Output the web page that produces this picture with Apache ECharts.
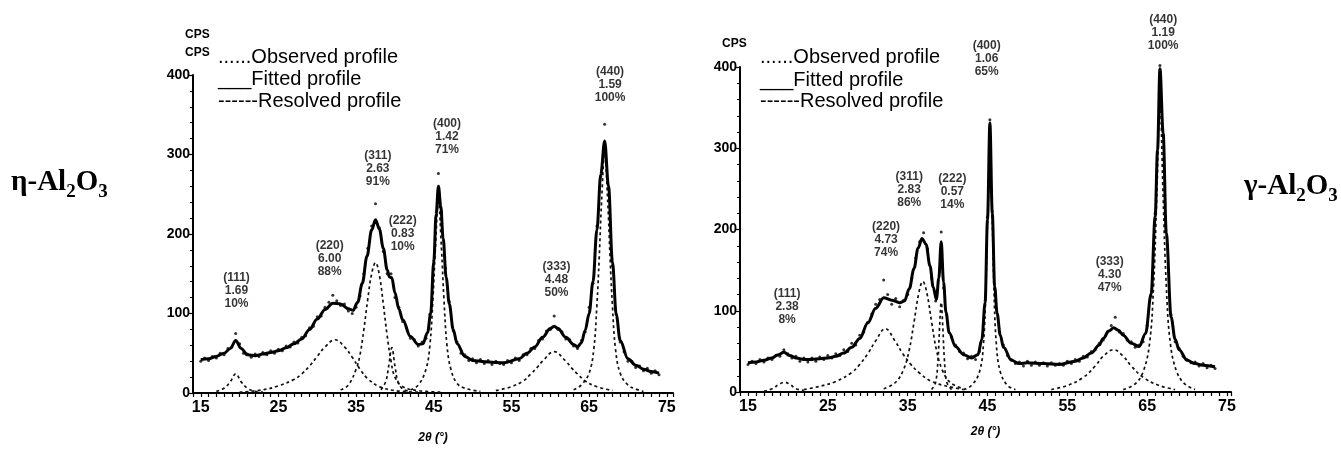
<!DOCTYPE html>
<html>
<head>
<meta charset="utf-8">
<title>η-Al2O3 / γ-Al2O3 profiles</title>
<script src="https://cdn.jsdelivr.net/npm/echarts@6/dist/echarts.min.js"></script>
<style>
  html, body { margin: 0; padding: 0; background: #fff; }
  #chart { width: 1341px; height: 449px; }
</style>
</head>
<body>
<div id="chart"></div>
<script>
// axis labels
const xTickLabels = [15, 25, 35, 45, 55, 65, 75]
const yTickLabels = [0, 100, 200, 300, 400]

// ---- eta-Al2O3 (left) ----
const etaObserved = [[15,40],[15.5,44],[16,41],[16.5,46],[17,44],[17.5,50],[18,48],[18.5,56],[19,58],[19.5,75],[20,62],[20.5,50],[21,49],[21.5,45],[22,49],[22.5,46],[23,51],[23.5,48],[24,53],[24.5,50],[25,55],[25.5,53],[26,59],[26.5,58],[27,64],[27.5,63],[28,70],[28.5,72],[29,82],[29.5,84],[30,96],[30.5,97],[31,108],[31.5,114],[32,123],[32.5,116],[33,110],[33.5,112],[34,103],[34.5,100],[35,108],[35.5,122],[36,150],[36.5,182],[37,210],[37.5,238],[38,208],[38.5,178],[39,150],[39.5,150],[40,120],[40.5,108],[41,90],[41.5,82],[42,69],[42.5,67],[43,59],[43.5,64],[44,69],[44.5,99],[45,166],[45.6,276],[46,228],[46.5,157],[47,115],[47.5,78],[48,64],[48.5,50],[49,48],[49.5,41],[50,43],[50.5,38],[51,42],[51.5,37],[52,41],[52.5,36],[53,40],[53.5,37],[54,36],[54.5,41],[55,38],[55.5,44],[56,41],[56.5,48],[57,48],[57.5,56],[58,56],[58.5,66],[59,68],[59.5,78],[60,80],[60.5,97],[61,80],[61.5,77],[62,68],[62.5,67],[63,59],[63.5,56],[64,66],[64.5,77],[65,108],[65.5,138],[66,210],[66.5,272],[67,338],[67.5,258],[68,160],[68.5,99],[69,64],[69.5,52],[70,40],[70.5,40],[71,32],[71.5,34],[72,28],[72.5,31],[73,25],[73.5,28],[74,23]]
const etaFitted = [[15,42],[16,43],[17,46],[18,50],[18.8,56],[19.5,66],[20.2,56],[21,48],[22,47],[23,49],[24,51],[25,53],[26,57],[27,62],[28,68],[29,80],[30,93],[31,105],[32,113],[33,112],[34,106],[34.6,104],[35.2,114],[35.8,138],[36.4,172],[37,205],[37.5,218],[38,206],[38.5,182],[39,155],[39.3,146],[39.6,145],[40,126],[40.5,106],[41,92],[42,71],[43,61],[43.6,62],[44.2,76],[44.6,100],[45,165],[45.3,225],[45.6,260],[45.9,235],[46.2,195],[46.6,145],[47,112],[47.5,80],[48,62],[49,46],[50,41],[52,39],[54,38],[56,43],[57,50],[58,58],[59,70],[60,81],[60.5,84],[61,81],[62,70],[63,61],[63.5,58],[64,63],[64.5,79],[65,100],[65.5,140],[66,205],[66.5,275],[67,317],[67.5,260],[68,165],[68.5,98],[69,66],[70,43],[71,35],[72,30],[73,27],[74,25]]
const eta111 = [[17,2],[18,6],[18.8,14],[19.5,24],[20.2,14],[21,6],[22,2],[23,1]]
const eta220 = [[20,1],[23,4],[25,9],[27,17],[28,24],[29,34],[30,46],[31,58],[32.3,67],[33.5,58],[34.5,45],[35.5,30],[36.5,18],[38,8],[40,3],[43,1]]
const eta311 = [[33,4],[34,10],[35,30],[35.5,48],[36,80],[36.5,118],[37,150],[37.5,164],[38,148],[38.5,112],[39,72],[39.5,40],[40,20],[41,8],[43,3],[46,1]]
const eta222 = [[38.2,4],[38.8,14],[39.2,34],[39.6,57],[40,34],[40.4,14],[41,5],[42,2]]
const eta400 = [[42,4],[43,10],[44,30],[44.5,60],[44.9,120],[45.2,180],[45.6,240],[46,180],[46.3,120],[46.7,60],[47.2,30],[48,12],[49,6],[51,2]]
const eta333 = [[53,3],[55,8],[56.5,15],[57.5,24],[58.3,32],[59,40],[60.5,52],[62,40],[62.7,32],[63.5,24],[64.5,15],[66,8],[68,3]]
const eta440 = [[63,4],[64,10],[65,25],[65.6,55],[66,110],[66.3,170],[66.6,240],[67,300],[67.4,240],[67.7,170],[68,110],[68.4,55],[69,25],[70,10],[71,5],[72,2]]
const etaHkl = ['(111)', '(220)', '(311)', '(222)', '(400)', '(333)', '(440)']
const etaFwhm = ['1.69', '6.00', '2.63', '0.83', '1.42', '4.48', '1.59']
const etaPct = ['10%', '88%', '91%', '10%', '71%', '50%', '100%']
const etaLabelAt = [[19.6,129],[31.6,169],[37.8,282],[41.0,201],[46.7,323],[60.8,143],[67.7,388]]

// ---- gamma-Al2O3 (right) ----
const gamObserved = [[15,34],[15.5,38],[16,35],[16.5,40],[17,37],[17.5,42],[18,40],[18.5,45],[19,44],[19.5,52],[20,47],[20.5,42],[21,44],[21.5,38],[22,42],[22.5,37],[23,42],[23.5,38],[24,43],[24.5,40],[25,45],[25.5,42],[26,47],[26.5,45],[27,52],[27.5,50],[28,60],[28.5,58],[29,70],[29.5,74],[30,86],[30.5,96],[31,108],[31.5,114],[32,138],[32.5,120],[33,108],[33.5,115],[34,105],[34.5,113],[35,120],[35.5,140],[36,165],[36.5,185],[37,196],[37.5,176],[38,140],[38.5,112],[39,150],[39.2,197],[39.5,128],[40,86],[40.5,68],[41,58],[41.5,50],[42,48],[42.5,41],[43,44],[43.5,40],[44,50],[44.5,88],[45,215],[45.3,335],[45.6,222],[46,118],[46.5,74],[47,58],[47.5,45],[48,40],[48.5,35],[49,37],[49.5,32],[50,38],[50.5,33],[51,37],[51.5,33],[52,36],[52.5,32],[53,36],[53.5,33],[54,35],[54.5,33],[55,38],[55.5,35],[56,40],[56.5,38],[57,44],[57.5,43],[58,50],[58.5,52],[59,60],[59.5,64],[60,74],[60.5,82],[61,92],[61.5,74],[62,72],[62.5,64],[63,62],[63.5,55],[64,58],[64.5,62],[65,82],[65.5,118],[66,220],[66.6,402],[67,316],[67.5,180],[68,95],[68.5,62],[69,54],[69.5,44],[70,40],[70.5,36],[71,37],[71.5,32],[72,35],[72.5,30],[73,33],[73.5,29]]
const gamFitted = [[15,36],[16,37],[17,39],[18,42],[18.8,46],[19.5,49],[20.2,45],[21,42],[22,40],[23,40],[24,41],[25,42],[26,44],[27,48],[28,55],[29,66],[30,85],[31,103],[32,116],[33,113],[34,110],[34.6,112],[35.2,127],[35.8,152],[36.3,177],[36.8,189],[37.3,182],[37.8,155],[38.2,129],[38.6,114],[38.9,140],[39.2,185],[39.5,135],[39.8,98],[40.2,73],[41,56],[42,46],[43,42],[43.8,46],[44.3,65],[44.7,110],[45,212],[45.3,331],[45.6,220],[45.9,130],[46.2,97],[46.6,70],[47,55],[48,39],[49,35],[50,36],[52,35],[54,34],[56,38],[57,42],[58,48],[59,58],[59.5,66],[60.2,75],[60.8,79],[61.4,76],[62,70],[63,60],[64,56],[64.8,72],[65.5,121],[66,216],[66.3,298],[66.6,398],[67,319],[67.4,195],[68,92],[68.5,65],[69,52],[70,39],[71,35],[72,33],[73.5,31]]
const gam111 = [[17,1],[18,4],[19,10],[19.6,12],[20.3,9],[21,4],[22,2]]
const gam220 = [[22,3],[24,7],[26,13],[28,24],[29,34],[30,47],[31,63],[32.2,78],[33.4,63],[34.4,47],[35.4,34],[36.4,24],[38,13],[40,7],[42,3]]
const gam311 = [[32,4],[33.5,12],[34.5,28],[35.2,52],[35.8,86],[36.4,122],[36.9,136],[37.4,122],[38,86],[38.6,52],[39.3,28],[40.3,12],[42,4]]
const gam222 = [[38,3],[38.5,12],[38.8,40],[39,80],[39.2,110],[39.4,80],[39.6,40],[39.9,12],[40.5,3]]
const gam400 = [[42,3],[43,8],[44,25],[44.5,60],[44.8,130],[45,210],[45.3,290],[45.6,210],[45.8,130],[46.1,60],[46.6,25],[47.5,8],[48.5,3]]
const gam333 = [[53,3],[55,8],[57,18],[58.5,32],[59.5,44],[60.8,52],[62,44],[63,32],[64.5,18],[66.5,8],[68.5,3]]
const gam440 = [[62,3],[63.5,10],[64.5,25],[65.3,60],[65.8,130],[66.2,240],[66.6,360],[67,240],[67.4,130],[67.9,60],[68.7,25],[69.7,10],[71,3]]
const gamHkl = ['(111)', '(220)', '(311)', '(222)', '(400)', '(333)', '(440)']
const gamFwhm = ['2.38', '4.73', '2.83', '0.57', '1.06', '4.30', '1.19']
const gamPct = ['8%', '74%', '86%', '14%', '65%', '47%', '100%']
const gamLabelAt = [[19.9,105],[32.3,187],[35.2,249],[40.6,246],[44.9,410],[60.3,145],[67.0,442]]

const chart = echarts.init(document.getElementById('chart'))

const sans = '"Liberation Sans", Arial, sans-serif'
const narrow = '"Liberation Sans Narrow", "Liberation Sans", Arial, sans-serif'
const serif = '"Liberation Serif", "Times New Roman", serif'

const xLabel = (v) => {
  const r = Math.round(v)
  return Math.abs(v - r) < 1e-6 && xTickLabels.includes(r) ? String(r) : ''
}

const makeX = (gridIndex, min, max, nameGap) => ({
  type: 'value',
  gridIndex,
  min,
  max,
  interval: 1,
  name: '2θ (°)',
  nameLocation: 'middle',
  nameGap,
  nameTextStyle: { fontFamily: sans, fontSize: 12, fontWeight: 'bold', fontStyle: 'italic', color: '#000' },
  axisLine: { show: true, onZero: false, lineStyle: { color: '#000', width: 2 } },
  axisTick: { show: true, length: 4, lineStyle: { color: '#000', width: 1.2 } },
  axisLabel: { formatter: xLabel, margin: 7, color: '#000', fontFamily: narrow, fontWeight: 'bold', fontSize: 16 },
  splitLine: { show: false }
})

const makeY = (gridIndex) => ({
  type: 'value',
  gridIndex,
  min: yTickLabels[0],
  max: yTickLabels[yTickLabels.length - 1],
  interval: 100,
  axisLine: { show: true, lineStyle: { color: '#000', width: 2 } },
  axisTick: { show: true, length: 5, lineStyle: { color: '#000', width: 1.2 } },
  minorTick: { show: true, splitNumber: 5, length: 3, lineStyle: { color: '#000', width: 1 } },
  axisLabel: { margin: 3, color: '#000', fontFamily: narrow, fontWeight: 'bold', fontSize: 14 },
  splitLine: { show: false }
})

const observed = (data, i) => ({
  type: 'scatter', xAxisIndex: i, yAxisIndex: i, data,
  symbolSize: 3, clip: false, silent: true,
  itemStyle: { color: '#000' }
})

const fitted = (data, i) => ({
  type: 'line', xAxisIndex: i, yAxisIndex: i, data,
  showSymbol: false, smooth: 0.35, smoothMonotone: 'x', silent: true,
  lineStyle: { color: '#000', width: 3 }
})

const resolved = (data, i) => ({
  type: 'line', xAxisIndex: i, yAxisIndex: i, data,
  showSymbol: false, smooth: 0.4, silent: true,
  lineStyle: { color: '#111', width: 1.7, type: [3, 3] }
})

const peakLabels = (hkl, fwhm, pct, at, i) => ({
  type: 'scatter', xAxisIndex: i, yAxisIndex: i,
  symbolSize: 1, clip: false, silent: true,
  itemStyle: { color: 'rgba(0,0,0,0)' },
  data: hkl.map((h, k) => ({ value: at[k], name: h + '\n' + fwhm[k] + '\n' + pct[k] })),
  label: {
    show: true, position: 'inside', formatter: (p) => p.name,
    color: '#000', fontFamily: narrow, fontWeight: 'bold', fontSize: 12, lineHeight: 13
  }
})

const legendText = (left, top, text) => ({
  type: 'text', left, top,
  style: { text, fill: '#000', font: '20px ' + sans }
})

const formula = (left, top, greek) => ({
  type: 'text', left, top,
  style: {
    text: '{b|' + greek + '-Al}{s|2}{b|O}{s|3}',
    rich: {
      b: { fontFamily: serif, fontSize: 29, fontWeight: 'bold', fill: '#000', verticalAlign: 'top', padding: [0, 0, 5, 0] },
      s: { fontFamily: serif, fontSize: 19, fontWeight: 'bold', fill: '#000', verticalAlign: 'bottom' }
    }
  }
})

chart.setOption({
  animation: false,
  backgroundColor: '#fff',
  grid: [
    { left: 193, top: 75, width: 480, height: 322 },
    { left: 740, top: 67, width: 491, height: 325 }
  ],
  xAxis: [makeX(0, 14, 75.8, 39), makeX(1, 14, 75.5, 34)],
  yAxis: [makeY(0), makeY(1)],
  series: [
    resolved(eta111, 0), resolved(eta220, 0), resolved(eta311, 0), resolved(eta222, 0),
    resolved(eta400, 0), resolved(eta333, 0), resolved(eta440, 0),
    fitted(etaFitted, 0),
    observed(etaObserved, 0),
    peakLabels(etaHkl, etaFwhm, etaPct, etaLabelAt, 0),
    resolved(gam111, 1), resolved(gam220, 1), resolved(gam311, 1), resolved(gam222, 1),
    resolved(gam400, 1), resolved(gam333, 1), resolved(gam440, 1),
    fitted(gamFitted, 1),
    observed(gamObserved, 1),
    peakLabels(gamHkl, gamFwhm, gamPct, gamLabelAt, 1)
  ],
  graphic: [
    { type: 'text', left: 185, top: 29, style: { text: 'CPS', fill: '#000', font: 'bold 12px ' + sans } },
    { type: 'text', left: 185, top: 47, style: { text: 'CPS', fill: '#000', font: 'bold 12px ' + sans } },
    { type: 'text', left: 722, top: 38, style: { text: 'CPS', fill: '#000', font: 'bold 12px ' + sans } },
    legendText(218, 47, '......Observed profile'),
    legendText(218, 69, '___Fitted profile'),
    legendText(218, 91, '------Resolved profile'),
    legendText(760, 47, '......Observed profile'),
    legendText(760, 70, '___Fitted profile'),
    legendText(760, 91, '------Resolved profile'),
    formula(11, 168, 'η'),
    formula(1244, 172, 'γ')
  ]
})
</script>
</body>
</html>
